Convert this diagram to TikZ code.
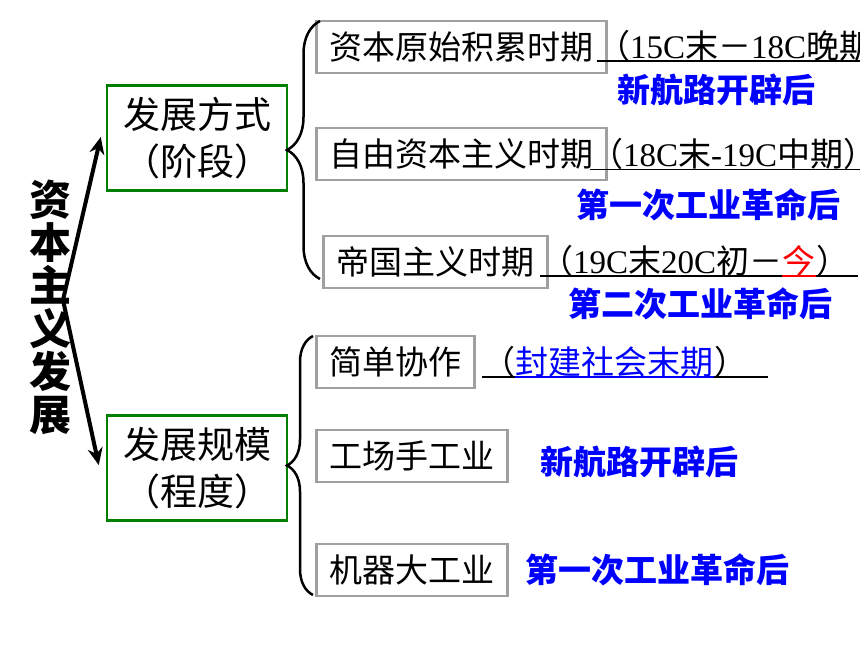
\documentclass[tikz,border=0pt]{standalone}
\usepackage{fontspec}
\setmainfont{Noto Sans CJK SC}
\newfontfamily\lat{Liberation Serif}
\usetikzlibrary{decorations.pathreplacing,arrows.meta}
\definecolor{boxgreen}{RGB}{0,128,0}
\definecolor{boxgray}{RGB}{160,160,160}
\definecolor{noteblue}{RGB}{0,0,255}
\tikzset{
  stagebox/.style={draw=boxgreen,line width=2.5pt,minimum width=180pt,minimum height=105pt,inner sep=0pt,align=center,font=\fontsize{37}{47}\selectfont},
  periodbox/.style={draw=boxgray,line width=2.5pt,minimum height=52pt,inner xsep=13pt,inner ysep=0pt,anchor=west,font=\fontsize{33}{40}\selectfont},
  datenote/.style={inner sep=0pt,anchor=base west,font=\fontsize{33}{40}\selectfont},
  eventnote/.style={text=noteblue,inner sep=0pt,font=\bfseries\fontsize{33}{40}\selectfont},
  underline/.style={line width=1.5pt},
  groupbrace/.style={decorate,decoration={brace,amplitude=#1},line width=2.5pt},
}
\begin{document}
\begin{tikzpicture}[x=1pt,y=-1pt]
\useasboundingbox (0,0) rectangle (860,645);
\clip (0,0) rectangle (860,645);
% title and the two ways
\node[inner sep=0pt,align=center,font=\bfseries\fontsize{42}{43}\selectfont] (title) at (50,307) {资\\本\\主\\义\\发\\展};
\coordinate (root) at (63,300);
\node[stagebox] (mode) at (197,138) {发展方式\\（阶段）};
\node[stagebox] (scale) at (197,468) {发展规模\\（程度）};
\draw[-{Stealth[length=17pt,width=15pt]},line width=4pt] (root) -- ([xshift=-5pt,yshift=1pt]mode.west);
\draw[-{Stealth[length=17pt,width=15pt]},line width=4pt] (root) -- ([xshift=-7pt,yshift=3pt]scale.west);

% stages
\node[periodbox] (p1) at (315,47) {资本原始积累时期};
\node[periodbox] (p2) at (315,154) {自由资本主义时期};
\node[periodbox] (p3) at (322,262) {帝国主义时期};
\coordinate (b1t) at (320,21);
\coordinate (b1b) at (320,279);
\draw[groupbrace=33pt] (b1b) -- (b1t);

\node[datenote] (d1) at (597,58) {（{\lat 15C}末－{\lat 18C}晚期};
\draw[underline] ([yshift=-3pt]d1.base west) -- ++(263,0);
\node[datenote] (d2) at (590,166.5) {（{\lat 18C}末{\lat -19C}中期）};
\draw[underline] ([yshift=-3pt]d2.base west) -- ++(270,0);
\node[datenote] (d3a) at (540,273) {（{\lat 19C}末{\lat 20C}初－};
\node[datenote,text=red] (d3b) at (d3a.base east) {今};
\node[datenote] (d3c) at (d3b.base east) {）};
\draw[underline] ([yshift=-3pt]d3a.base west) -- ++(318,0);
\draw[underline,red] ([yshift=-3pt]d3b.base west) -- ([yshift=-3pt]d3b.base east);

\node[eventnote] (e1) at (716,90) {新航路开辟后};
\node[eventnote] (e2) at (708,205) {第一次工业革命后};
\node[eventnote] (e3) at (700,304) {第二次工业革命后};

% scales
\node[periodbox] (s1) at (315,362) {简单协作};
\node[periodbox] (s2) at (315,456) {工场手工业};
\node[periodbox] (s3) at (315,570) {机器大工业};
\coordinate (b2t) at (313,336);
\coordinate (b2b) at (313,595);
\draw[groupbrace=26pt] (b2b) -- (b2t);

\node[datenote] (d4a) at (482,374) {（};
\node[datenote,text=noteblue] (d4b) at (d4a.base east) {封建社会末期};
\node[datenote] (d4c) at (d4b.base east) {）};
\draw[underline] ([yshift=-3pt]d4a.base west) -- ++(286,0);
\draw[underline,noteblue] ([yshift=-3pt]d4b.base west) -- ([yshift=-3pt]d4b.base east);

\node[eventnote] (e4) at (639,462) {新航路开辟后};
\node[eventnote] (e5) at (657,570) {第一次工业革命后};
\end{tikzpicture}
\end{document}
